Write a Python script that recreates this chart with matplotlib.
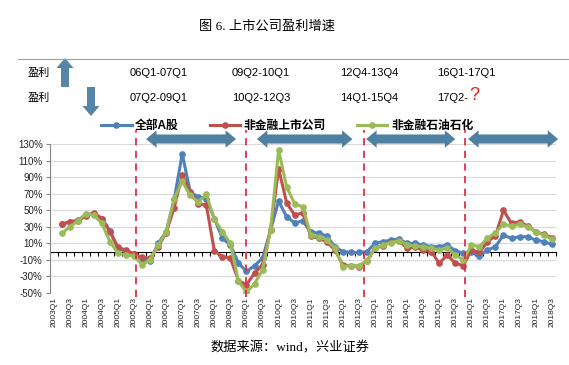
import numpy as np
import matplotlib
matplotlib.use("Agg")
import matplotlib.pyplot as plt
from matplotlib.patches import Polygon
from matplotlib.lines import Line2D

plt.rcParams['font.family'] = ['Liberation Sans', 'Noto Sans CJK SC']

# quarters 2003Q1 .. 2018Q3 (first quarter has no value)
quarters = [f"{y}Q{q}" for y in range(2003, 2019) for q in range(1, 5)][:63]
nan = np.nan

all_a = [nan, 33, 36, 38, 44, 46, 40, 25, 4, 0, -3, -9, -11,
         10, 24, 63, 118, 72, 66, 64, 40, 16, 8, -14, -24, -17, -8,
         26, 61, 42, 35, 37, 24, 22, 19, 6, 0, -1, -1, 0, 10, 12, 14,
         15, 10, 10, 8, 6, 6, 8, 1, -2, -1, -5, 2, 6, 20, 16, 18, 18,
         14, 12, 9]
non_fin = [nan, 33, 36, 37, 43, 47, 40, 24, 5, 2, -3, -7, -8,
           6, 23, 53, 93, 72, 58, 56, 1, -6, -8, -35, -40, -26, -16,
           26, 100, 59, 44, 47, 19, 16, 12, 2, -16, -17, -18, -11, 4, 7, 12,
           13, 4, 5, 2, 0, -14, -4, -14, -17, 2, -1, 12, 19, 50, 34, 36, 31,
           24, 21, 17]
non_fin_oil = [nan, 22, 30, 37, 46, 44, 34, 12, -2, -4, -5, -16, -10,
               8, 24, 64, 85, 68, 60, 69, 39, 24, 10, -36, -49, -39, -22,
               26, 123, 78, 58, 54, 20, 18, 14, 4, -18, -17, -17, -11, 4, 8, 11,
               13, 8, 7, 6, 4, 2, 4, -4, -10, 8, 6, 16, 23, 33, 31, 33, 30,
               24, 20, 15]

series_names = ['全部A股', '非金融上市公司', '非金融石油石化']
series_colors = ['#4F81BD', '#C0504D', '#9BBB59']

# cycle boundaries (category index) and double arrows (start, end)
cycle_lines = [10.3, 24.0, 38.6, 51.2]
cycle_arrows = [(11.5, 22.7), (25.3, 37.2), (38.9, 50.0), (51.6, 62.8)]

up_periods = ['06Q1-07Q1', '09Q2-10Q1', '12Q4-13Q4', '16Q1-17Q1']
down_periods = ['07Q2-09Q1', '10Q2-12Q3', '14Q1-15Q4', '17Q2-']

W, H = 569, 365
arrow_color = '#4F80A2'

fig = plt.figure(figsize=(W / 100, H / 100), dpi=100)
ax = fig.add_axes([49.7 / W, 1 - 293 / H, 506 / W, 149 / H])

x = np.arange(len(quarters))
for vals, name, col in zip([all_a, non_fin, non_fin_oil], series_names, series_colors):
    ax.plot(x, vals, color=col, lw=2.2, marker='o', ms=3.8, label=name, zorder=3)

ax.set_xlim(-0.5, len(quarters) - 0.5)
ax.set_ylim(-50, 130)
yt = np.arange(-50, 131, 20)
ax.set_yticks(yt)
ax.set_yticklabels([f"{v}%" for v in yt], fontsize=7, color='#222222')
ax.grid(axis='y', color='#D9D9D9', lw=0.8)
ax.set_axisbelow(True)
ax.set_xticks(x[::2])
ax.set_xticklabels(quarters[::2], rotation=90, fontsize=6, color='#222222')
ax.tick_params(axis='x', length=0, pad=3)
ax.tick_params(axis='y', length=3, color='#868686', pad=2)
for s in ['top', 'right', 'bottom']:
    ax.spines[s].set_visible(False)
ax.spines['left'].set_color('#868686')

# zero axis with category tick marks
sec = ax.secondary_xaxis(50 / 180)
sec.set_xticks(np.arange(-0.5, len(quarters), 1))
sec.tick_params(axis='x', direction='out', length=3, color='black', labelbottom=False, labeltop=False)
for s in sec.spines.values():
    s.set_color('black')
    s.set_linewidth(0.8)

# red dashed cycle lines
ax.vlines(cycle_lines, -55, 147, colors='#E03040', linestyles=(0, (4, 3)), lw=1.3,
          clip_on=False, zorder=4)


def double_arrow(x0, x1, y, body=5.5, head=10.5, hl=1.3):
    verts = [(x0, y), (x0 + hl, y + head), (x0 + hl, y + body), (x1 - hl, y + body),
             (x1 - hl, y + head), (x1, y), (x1 - hl, y - head), (x1 - hl, y - body),
             (x0 + hl, y - body), (x0 + hl, y - head)]
    ax.add_patch(Polygon(verts, closed=True, color=arrow_color, lw=0, clip_on=False, zorder=5))


for a, b in cycle_arrows:
    double_arrow(a, b, 136)

# legend
fig.legend(loc='center', bbox_to_anchor=(287 / W, 1 - 126 / H), ncol=3, frameon=False,
           prop={'weight': 'bold', 'size': 8.5, 'family': ['Liberation Sans', 'Noto Sans CJK SC']},
           handlelength=2.6, columnspacing=2.6, handletextpad=0.3)

# title and source
fig.text(267 / W, 1 - 27 / H, '图 6. 上市公司盈利增速', ha='center', va='center', fontsize=9.5,
         family=['Liberation Serif', 'Noto Sans CJK SC'])
fig.text(290 / W, 1 - 348 / H, '数据来源：wind，兴业证券', ha='center', va='center', fontsize=9.5,
         family=['Liberation Serif', 'Noto Sans CJK SC'])

# top table
fig.add_artist(Line2D([18 / W, 1], [1 - 58.5 / H, 1 - 58.5 / H], color='#A0A0A0', lw=0.8))
fig.text(28 / W, 1 - 72.5 / H, '盈利', fontsize=8, va='center')
fig.text(28 / W, 1 - 98 / H, '盈利', fontsize=8, va='center')
col_x = [130, 232, 340, 437]
for cx, up, down in zip(col_x, up_periods, down_periods):
    fig.text(cx / W, 1 - 72.5 / H, up, fontsize=8, va='center')
    fig.text(cx / W, 1 - 98 / H, down, fontsize=8, va='center')
fig.text(469 / W, 1 - 95 / H, '?', fontsize=13, va='center', color='#E02020')


def vert_arrow(cx, ytip, ybase):
    # pixel coordinates, origin top-left
    d = 1 if ybase > ytip else -1
    hl = 10 * d
    verts = [(cx, ytip), (cx + 8.5, ytip + hl), (cx + 4, ytip + hl), (cx + 4, ybase),
             (cx - 4, ybase), (cx - 4, ytip + hl), (cx - 8.5, ytip + hl)]
    verts = [(vx / W, 1 - vy / H) for vx, vy in verts]
    fig.add_artist(Polygon(verts, closed=True, color='#5685A8', lw=0, transform=fig.transFigure))


vert_arrow(65, 58, 87)
vert_arrow(91, 116, 87)

fig.savefig('out.png', dpi=100)
